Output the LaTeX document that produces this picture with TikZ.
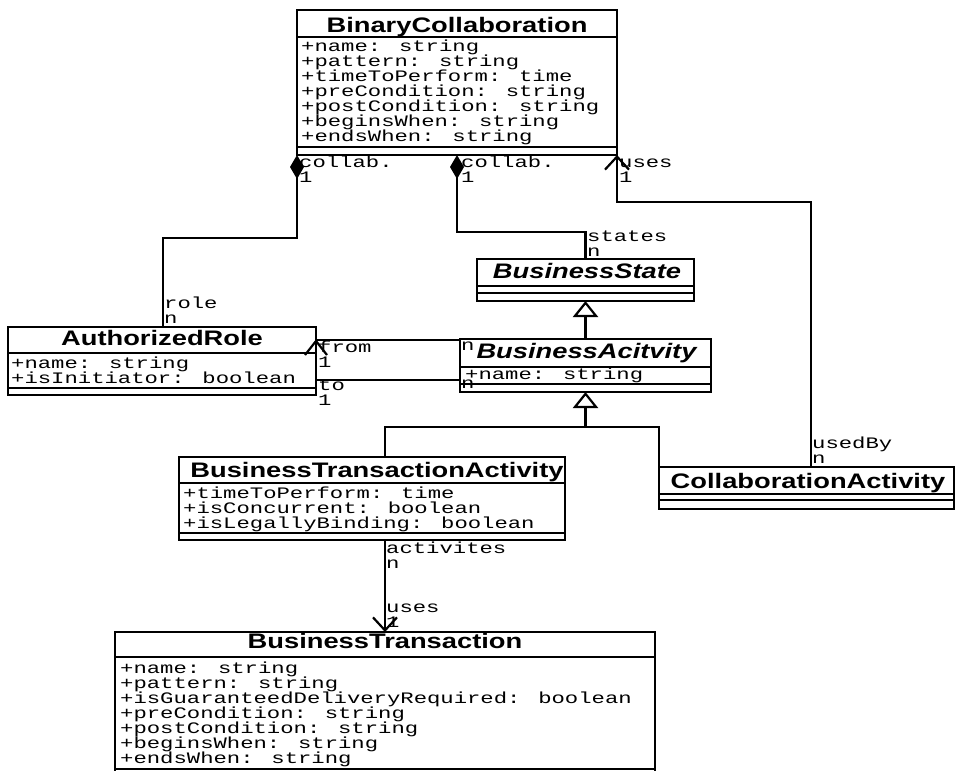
\documentclass[tikz,border=0pt]{standalone}
\usepackage{fontspec}
\usepackage{graphicx}
\setmainfont{Liberation Sans}
\newfontfamily\monof{Liberation Mono}
\usetikzlibrary{arrows.meta,calc}
\newcommand\cttl[1]{\scalebox{1.3}[1]{\fontsize{21}{24}\selectfont\bfseries #1}}
\newcommand\cttli[1]{\scalebox{1.3}[1]{\fontsize{21}{24}\selectfont\bfseries\itshape #1}}
\newcommand\mlines[1]{\scalebox{1.39}[1]{\fontsize{16}{15}\selectfont\monof\vtop{\baselineskip=15pt\lineskiplimit=-100pt\lineskip=0pt\halign{##\hfil\cr#1\crcr}}}}
\tikzset{
  cls/.style={draw, line width=2.2pt, inner sep=0pt, outer sep=0pt, anchor=north west, fill=white},
  ttl/.style={inner sep=0pt, anchor=base},
  mtxt/.style={inner sep=0pt, anchor=base west},
  sep/.style={line width=2.2pt},
  conn/.style={line width=2.2pt},
  thinconn/.style={line width=1.5pt},
  gen/.style={-{Triangle[open,length=16pt,width=25pt,fill=white]}},
  nav/.style={-{Straight Barb[length=13pt,width=24pt]}}
}
\begin{document}
\begin{tikzpicture}[x=1pt,y=-1pt]
\useasboundingbox (0,0) rectangle (956,771);
\clip (0,0) rectangle (956,771);
\fill[white] (0,0) rectangle (956,771);

% class boxes
\node[cls, minimum width=320pt, minimum height=145pt] (bc) at (297,10) {};
\node[cls, minimum width=308pt, minimum height=68pt] (ar) at (8,327) {};
\node[cls, minimum width=217pt, minimum height=42pt] (bs) at (477,259) {};
\node[cls, minimum width=251pt, minimum height=53pt] (ba) at (460,339) {};
\node[cls, minimum width=386pt, minimum height=83pt] (bta) at (179,457) {};
\node[cls, minimum width=295pt, minimum height=42pt] (ca) at (659,467) {};
\node[cls, minimum width=540pt, minimum height=158pt] (bt) at (115,632) {};

% separators
\draw[sep] (297,37) -- (617,37);
\draw[sep] (297,147) -- (617,147);
\draw[sep] (8,353) -- (316,353);
\draw[sep] (8,388) -- (316,388);
\draw[sep] (477,286) -- (694,286);
\draw[sep] (477,293) -- (694,293);
\draw[sep] (460,367) -- (711,367);
\draw[sep] (460,384) -- (711,384);
\draw[sep] (179,483) -- (565,483);
\draw[sep] (179,533) -- (565,533);
\draw[sep] (659,494) -- (954,494);
\draw[sep] (659,500) -- (954,500);
\draw[sep] (115,657) -- (655,657);
\draw[sep] (115,769) -- (655,769);

% titles
\node[ttl] (bct) at (457,32) {\cttl{BinaryCollaboration}};
\node[ttl] (art) at (162,345) {\cttl{AuthorizedRole}};
\node[ttl] (bst) at (587,278) {\cttli{BusinessState}};
\node[ttl] (bat) at (586.5,358) {\cttli{BusinessAcitvity}};
\node[ttl] (btat) at (377,477) {\cttl{BusinessTransactionActivity}};
\node[ttl] (cat) at (808,488) {\cttl{CollaborationActivity}};
\node[ttl] (btt) at (385,648) {\cttl{BusinessTransaction}};

% attributes
\node[mtxt] (bca) at (301,51) {\mlines{+name: string\cr+pattern: string\cr+timeToPerform: time\cr+preCondition: string\cr+postCondition: string\cr+beginsWhen: string\cr+endsWhen: string}};
\node[mtxt] (ara) at (11,368) {\mlines{+name: string\cr+isInitiator: boolean}};
\node[mtxt] (baa) at (465,379) {\mlines{+name: string}};
\node[mtxt] (btaa) at (183,498) {\mlines{+timeToPerform: time\cr+isConcurrent: boolean\cr+isLegallyBinding: boolean}};
\node[mtxt] (bta2) at (120,673) {\mlines{+name: string\cr+pattern: string\cr+isGuaranteedDeliveryRequired: boolean\cr+preCondition: string\cr+postCondition: string\cr+beginsWhen: string\cr+endsWhen: string}};

% connectors
\draw[conn,{Diamond[length=24pt,width=14pt]}-] (bc.south west) -- ++(0,83) -| ($(ar.north west)+(155,0)$);
\draw[conn,{Diamond[length=24pt,width=14pt]}-] (bc.south) -- ++(0,77) -| (bs.north);
\draw[conn,{Straight Barb[length=13pt,width=24pt]}-] (bc.south east) -- ++(0,47) -| ($(ca.north west)+(152,0)$);
\draw[conn,gen] (ba.north) -- (bs.south);
\coordinate (j) at (585.5,427);
\draw[conn] ($(bta.north west)+(206,0)$) |- (j);
\draw[conn] (ca.north west) |- (j);
\draw[conn,gen] (j) -- (ba.south);
\draw[conn,nav] ($(bta.south west)+(206,0)$) -- ($(bt.north west)+(270,0)$);
\draw[thinconn] ($(ba.north west)+(0,1)$) -- ($(ar.north east)+(0,13)$);
\draw[thinconn] ($(ba.south west)+(0,-12)$) -- ($(ar.south east)+(0,-15)$);
\draw[conn] ($(ar.north east)+(-11,28)$) -- ($(ar.north east)+(0,14)$) -- ($(ar.north east)+(11,28)$);

% role labels
\node[mtxt] (l1) at (299,167) {\mlines{collab.\cr1}};
\node[mtxt] (l2) at (461,167) {\mlines{collab.\cr1}};
\node[mtxt] (l3) at (619,167) {\mlines{uses\cr1}};
\node[mtxt] (l4) at (164,308) {\mlines{role\cr n}};
\node[mtxt] (l5) at (587,241) {\mlines{states\cr n}};
\node[mtxt] (l6) at (318,352) {\mlines{from\cr1}};
\node[mtxt] (l7) at (318,390) {\mlines{to\cr1}};
\node[mtxt] (l8) at (461,350) {\mlines{n}};
\node[mtxt] (l9) at (461,388) {\mlines{n}};
\node[mtxt] (l10) at (812,448) {\mlines{usedBy\cr n}};
\node[mtxt] (l11) at (386,553) {\mlines{activites\cr n}};
\node[mtxt] (l12) at (386,612) {\mlines{uses\cr1}};
\end{tikzpicture}
\end{document}
